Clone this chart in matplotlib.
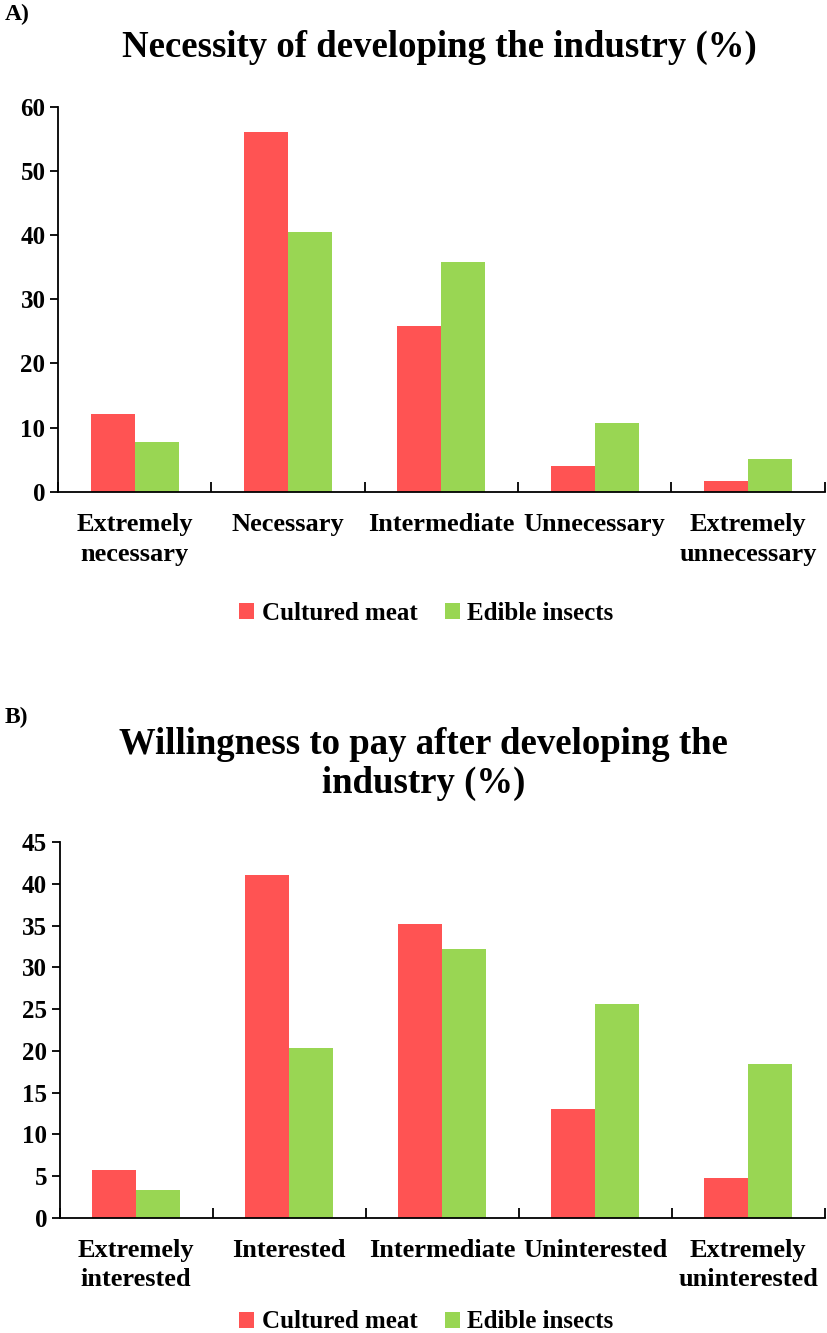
import matplotlib
matplotlib.use("Agg")
import matplotlib.pyplot as plt
import numpy as np

# Panel A data
necessity_labels = ["Extremely\nnecessary", "Necessary", "Intermediate",
                    "Unnecessary", "Extremely\nunnecessary"]
necessity_meat = [12.2, 56.0, 25.8, 4.1, 1.7]
necessity_insects = [7.7, 40.5, 35.8, 10.7, 5.1]

# Panel B data
willingness_labels = ["Extremely\ninterested", "Interested", "Intermediate",
                      "Uninterested", "Extremely\nuninterested"]
willingness_meat = [5.8, 41.1, 35.2, 13.0, 4.8]
willingness_insects = [3.4, 20.4, 32.2, 25.6, 18.4]

series_names = ["Cultured meat", "Edible insects"]
RED = "#ff5353"
GREEN = "#99d653"
SERIF = "Liberation Serif"


def draw_panel(ax, labels, meat, insects, ymax, ystep):
    x = np.arange(len(labels))
    w = 0.287
    ax.bar(x - w / 2, meat, w, color=RED, label=series_names[0])
    ax.bar(x + w / 2, insects, w, color=GREEN, label=series_names[1])
    ax.set_xlim(-0.5, len(labels) - 0.5)
    ax.set_ylim(0, ymax)
    ticks = np.arange(0, ymax + 0.1, ystep)
    ax.set_yticks(ticks)
    ax.set_yticklabels([str(int(v)) for v in ticks],
                       fontfamily=SERIF, fontweight="bold", fontsize=18)
    # category boundary ticks
    ax.set_xticks(np.arange(-0.5, len(labels), 1.0))
    ax.set_xticklabels([])
    ax.tick_params(axis="x", direction="in", length=7, width=1.3)
    ax.tick_params(axis="y", direction="out", length=6, width=1.3, pad=3)
    for i, lab in enumerate(labels):
        ax.text(i, -0.055, lab, transform=ax.get_xaxis_transform(),
                ha="center", va="top", fontfamily=SERIF, fontweight="bold",
                fontsize=19, linespacing=1.38)
    for s in ["top", "right"]:
        ax.spines[s].set_visible(False)
    ax.spines["left"].set_linewidth(1.3)
    ax.spines["bottom"].set_linewidth(1.3)


legend_kw = dict(loc="center", ncol=2, frameon=False,
                 prop={"family": SERIF, "weight": "bold", "size": 18},
                 handlelength=0.6, handleheight=0.6, columnspacing=1.1,
                 handletextpad=0.3)

fig = plt.figure(figsize=(8.28, 13.33), dpi=100)

axA = fig.add_axes([0.070, 0.631, 0.926, 0.289])
draw_panel(axA, necessity_labels, necessity_meat, necessity_insects, 60, 10)
fig.text(0.006, 0.989, "A)", fontfamily=SERIF, fontweight="bold", fontsize=17,
         ha="left", va="center")
fig.text(0.531, 0.9647, "Necessity of developing the industry (%)",
         fontfamily=SERIF, fontweight="bold", fontsize=26.5, ha="center", va="center")
axA.legend(bbox_to_anchor=(0.515, 0.540), bbox_transform=fig.transFigure, **legend_kw)

axB = fig.add_axes([0.072, 0.0863, 0.924, 0.282])
draw_panel(axB, willingness_labels, willingness_meat, willingness_insects, 45, 5)
fig.text(0.006, 0.4615, "B)", fontfamily=SERIF, fontweight="bold", fontsize=17,
         ha="left", va="center")
fig.text(0.512, 0.4269, "Willingness to pay after developing the\nindustry (%)",
         fontfamily=SERIF, fontweight="bold", fontsize=26.5, ha="center", va="center",
         linespacing=1.15)
axB.legend(bbox_to_anchor=(0.515, 0.0083), bbox_transform=fig.transFigure, **legend_kw)

fig.savefig("out.png", dpi=100)
